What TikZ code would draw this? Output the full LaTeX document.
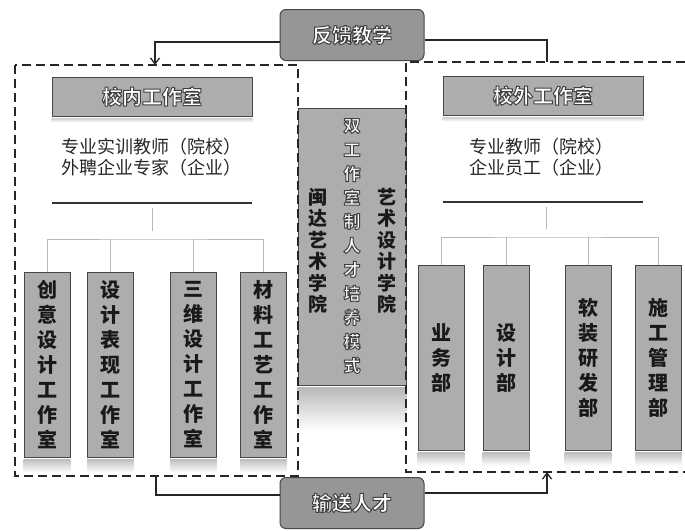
\documentclass[tikz,border=0pt]{standalone}
\usepackage{fontspec}
\usepackage{tikz}
\usetikzlibrary{positioning, arrows.meta}
\newfontfamily\cjk{Noto Sans CJK SC}
\XeTeXlinebreaklocale "zh"
\XeTeXlinebreakskip=0pt plus 1pt
\setlength{\parindent}{0pt}
\definecolor{boxgray}{HTML}{ADADAD}
\definecolor{nodegray}{HTML}{969696}
\definecolor{edgegray}{HTML}{474747}
\newcommand{\wtxt}[1]{{\color{white}\special{pdf:literal direct 2 Tr 1 w 0.25 G}#1\special{pdf:literal direct 0 Tr}}}
\newcommand{\wcol}[1]{\parbox{20pt}{\centering\wtxt{#1}}}

\begin{document}
\begin{tikzpicture}[x=1pt, y=-1pt,
  flow/.style={draw=black!85, line width=1.3pt},
  frame/.style={draw=black!85, line width=1.5pt, dash pattern=on 9pt off 5pt},
  pill/.style={draw=edgegray, fill=nodegray, rounded corners=6pt, line width=1pt,
    minimum width=144pt, minimum height=51pt, font=\cjk\bfseries\fontsize{20}{24}\selectfont},
  head/.style={draw=edgegray, fill=boxgray, line width=0.8pt, minimum width=200pt,
    minimum height=39pt, font=\cjk\bfseries\fontsize{20}{24}\selectfont},
  staff/.style={align=center, text=black!85, font=\cjk\fontsize{18}{21}\selectfont},
  bar/.style={draw=edgegray, fill=boxgray, line width=0.8pt, minimum width=46pt,
    minimum height=185pt, text width=22pt, align=center, text=black!90,
    font=\cjk\bfseries\fontsize{20}{25}\selectfont},
  side/.style={text width=22pt, align=center, text=black!90,
    font=\cjk\bfseries\fontsize{19}{21.5}\selectfont},
  bus/.style={draw=gray!55, line width=0.9pt},
  rule/.style={draw=black!80, line width=1.2pt}]
\useasboundingbox (0,0) rectangle (685,530);

% middle column
\node (core) at (352,246.5) [draw=edgegray, fill=boxgray, line width=0.8pt,
  minimum width=108pt, minimum height=277pt]{};
\shade[top color=gray!55, bottom color=white] ([yshift=-2pt]core.south west) rectangle ([yshift=-45pt]core.south east);
\node (model) at (352,246) [font=\cjk\bfseries\fontsize{17}{24}\selectfont]{\wcol{双工作室制人才培养模式}};
\node (art)   at (387,251) [side]{艺术设计学院};
\node (minda) at (318,251) [side]{闽达艺术学院};

% top and bottom
\node (feedback) at (352,35)  [pill]{\wtxt{反馈教学}};
\node (talent)   at (352,503) [pill]{\wtxt{输送人才}};

% inner studio
\node (inner) at (152,96.5) [head]{\wtxt{校内工作室}};
\shade[top color=gray!35, bottom color=white] ([yshift=-2pt]inner.south west) rectangle ([yshift=-6pt]inner.south east);
\node (innerstaff) at (151,157.5) [staff]{专业实训教师（院校）\\外聘企业专家（企业）};
\draw[rule] (52,203) -- (252,203);
\coordinate (lrule) at (152,203);
\coordinate (lbus) at (152,239);
\draw[bus] ([yshift=-5pt]lrule) -- ([yshift=8pt]lbus);
\node (l1) at (47,364.5)    [bar]{创意设计工作室};
\node (l2) at (110.5,364.5) [bar]{设计表现工作室};
\node (l3) at (193.5,364.5) [bar]{三维设计工作室};
\node (l4) at (263.5,364.5) [bar]{材料工艺工作室};
\draw[bus] (l1.north) |- (lbus) -| (l4.north);
\draw[bus] (l2.north) -- (l2 |- lbus)  (l3.north) -- (l3 |- lbus);
\shade[top color=gray!50, bottom color=white] ([yshift=-2pt]l1.south west) rectangle ([yshift=-15pt]l1.south east);
\shade[top color=gray!50, bottom color=white] ([yshift=-2pt]l2.south west) rectangle ([yshift=-15pt]l2.south east);
\shade[top color=gray!50, bottom color=white] ([yshift=-2pt]l3.south west) rectangle ([yshift=-15pt]l3.south east);
\shade[top color=gray!50, bottom color=white] ([yshift=-2pt]l4.south west) rectangle ([yshift=-15pt]l4.south east);

% outer studio
\node (outer) at (543,95.5) [head]{\wtxt{校外工作室}};
\shade[top color=gray!35, bottom color=white] ([yshift=-2pt]outer.south west) rectangle ([yshift=-6pt]outer.south east);
\node (outerstaff) at (541,157.5) [staff]{专业教师（院校）\\企业员工（企业）};
\draw[rule] (443,202) -- (643,202);
\coordinate (rrule) at (546,202);
\coordinate (rbus) at (546,237);
\draw[bus] ([yshift=-5pt]rrule) -- ([yshift=8pt]rbus);
\node (r1) at (441,358)   [bar]{业务部};
\node (r2) at (506,358)   [bar]{设计部};
\node (r3) at (588,358)   [bar]{软装研发部};
\node (r4) at (658.5,358) [bar]{施工管理部};
\draw[bus] (r1.north) |- (rbus) -| (r4.north);
\draw[bus] (r2.north) -- (r2 |- rbus)  (r3.north) -- (r3 |- rbus);
\shade[top color=gray!50, bottom color=white] ([yshift=-2pt]r1.south west) rectangle ([yshift=-15pt]r1.south east);
\shade[top color=gray!50, bottom color=white] ([yshift=-2pt]r2.south west) rectangle ([yshift=-15pt]r2.south east);
\shade[top color=gray!50, bottom color=white] ([yshift=-2pt]r3.south west) rectangle ([yshift=-15pt]r3.south east);
\shade[top color=gray!50, bottom color=white] ([yshift=-2pt]r4.south west) rectangle ([yshift=-15pt]r4.south east);

% dashed frames
\draw[frame] (15,65) rectangle (298,476);
\draw[frame] (685,62) -- (406,62) -- (406,472) -- (685,472);
\coordinate (ltop) at (155,65);
\coordinate (rtop) at (547,62);
\coordinate (lbot) at (156,476);
\coordinate (rbot) at (547,472);

% flows
\draw[flow, -{Straight Barb[length=6pt, width=9pt]}] ([yshift=-7pt]feedback.west) -| (ltop);
\draw[flow] ([yshift=-5pt]feedback.east) -| (rtop);
\draw[flow] ([yshift=8pt]talent.west) -| (lbot);
\draw[flow, -{Straight Barb[length=6pt, width=9pt]}] ([yshift=10pt]talent.east) -| (rbot);
\end{tikzpicture}
\end{document}
